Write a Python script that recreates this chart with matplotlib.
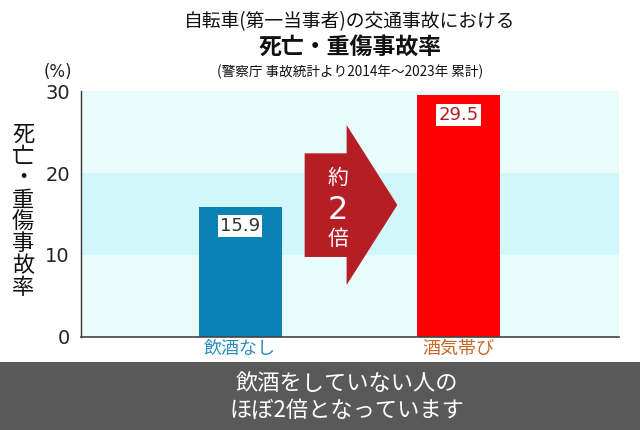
import matplotlib
matplotlib.use("Agg")
import matplotlib.pyplot as plt
from matplotlib.patches import Polygon, Rectangle

plt.rcParams['font.family'] = ['Noto Sans CJK JP', 'DejaVu Sans']

categories = ['飲酒なし', '酒気帯び']
values = [15.9, 29.5]
bar_colors = ['#0a82b4', '#ff0000']
label_colors = ['#2a8fc0', '#c8692a']
value_text_colors = ['#333333', '#b01e24']
yticks = [0, 10, 20, 30]
title1 = '自転車(第一当事者)の交通事故における'
title2 = '死亡・重傷事故率'
title3 = '(警察庁 事故統計より2014年～2023年 累計)'
ylabel = '死亡・重傷事故率'
arrow_text = ['約', '2', '倍']
banner_lines = ['飲酒をしていない人の', 'ほぼ2倍となっています']

W, H = 640, 430
fig = plt.figure(figsize=(6.4, 4.3), dpi=100)
fig.patch.set_facecolor('white')

ax = fig.add_axes([81 / W, (H - 337) / H, (619 - 81) / W, (337 - 91) / H])
ax.set_xlim(-0.728, 1.733)
ax.set_ylim(0, 30)
ax.set_facecolor('#e8fcfc')
ax.axhspan(10, 20, color='#d2f7fb', lw=0, zorder=0)

x = list(range(len(categories)))
ax.bar(x, values, width=0.379, color=bar_colors, zorder=2)

for xi, v, tc in zip(x, values, value_text_colors):
    ax.text(xi, v - 2.4, f'{v}', ha='center', va='center', fontsize=13,
            family=['DejaVu Sans'], color=tc, zorder=4,
            bbox=dict(boxstyle='square,pad=0.12', fc='white', ec='none'))

# arrow
body_x0, head_x0, tip_x = 0.295, 0.487, 0.719
body_y0, body_y1 = 9.76, 22.4
head_y0, head_y1, tip_y = 6.34, 25.85, 16.1
poly = Polygon([(body_x0, body_y0), (body_x0, body_y1), (head_x0, body_y1),
                (head_x0, head_y1), (tip_x, tip_y), (head_x0, head_y0),
                (head_x0, body_y0)], closed=True, fc='#b51e24', ec='none', zorder=3)
ax.add_patch(poly)
ax.text(0.446, 19.4, arrow_text[0], ha='center', va='center', color='white', fontsize=15, zorder=4)
ax.text(0.446, 15.4, arrow_text[1], ha='center', va='center', color='white', fontsize=23,
        family=['DejaVu Sans'], zorder=4)
ax.text(0.446, 12.0, arrow_text[2], ha='center', va='center', color='white', fontsize=15, zorder=4)

for s in ['top', 'right']:
    ax.spines[s].set_visible(False)
ax.spines['left'].set_color('#333333')
ax.spines['bottom'].set_color('#444444')
ax.spines['left'].set_linewidth(1.0)
ax.spines['bottom'].set_linewidth(1.2)
ax.set_yticks(yticks)
ax.set_yticklabels([str(t) for t in yticks], fontsize=14, family=['DejaVu Sans'], color='#222222')
ax.tick_params(axis='y', length=0, pad=8)
ax.set_xticks(x)
ax.set_xticklabels(categories, fontsize=13)
for lbl, c in zip(ax.get_xticklabels(), label_colors):
    lbl.set_color(c)
ax.tick_params(axis='x', length=0, pad=2)

# titles
fig.text(350 / W, 1 - 22 / H, title1, ha='center', va='center', fontsize=13.5, color='#111111')
fig.text(350 / W, 1 - 47 / H, title2, ha='center', va='center', fontsize=16.5, fontweight='bold', color='#111111')
fig.text(350 / W, 1 - 72 / H, title3, ha='center', va='center', fontsize=9.8, color='#111111')
fig.text(58 / W, 1 - 72 / H, '(%)', ha='center', va='center', fontsize=12, family=['DejaVu Sans'], color='#222222')

# vertical y label
n = len(ylabel)
y_start, y_end = 134, 288
for i, ch in enumerate(ylabel):
    yy = y_start + (y_end - y_start) * i / (n - 1)
    fig.text(23 / W, 1 - yy / H, ch, ha='center', va='center', fontsize=16, color='#111111')

# banner
fig.patches.append(Rectangle((0, 0), 1, (H - 362) / H, transform=fig.transFigure,
                             fc='#595959', ec='none', zorder=0))
fig.text(347 / W, 1 - 384 / H, banner_lines[0], ha='center', va='center', fontsize=16, color='white')
fig.text(347 / W, 1 - 410 / H, banner_lines[1], ha='center', va='center', fontsize=16, color='white')

fig.savefig('out.png', dpi=100)
